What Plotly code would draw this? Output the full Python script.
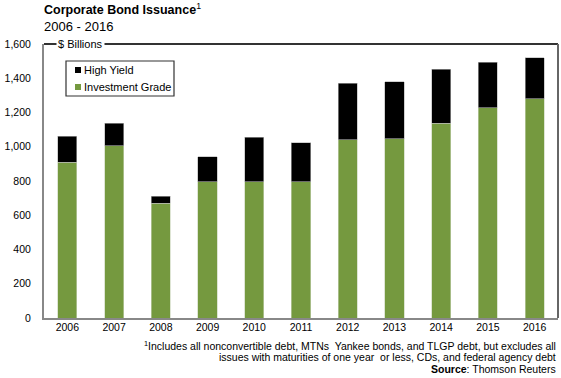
import plotly.graph_objects as go

years = ["2006", "2007", "2008", "2009", "2010", "2011", "2012", "2013", "2014", "2015", "2016"]
investment_grade = [910, 1005, 670, 795, 795, 795, 1040, 1046, 1137, 1228, 1280]
high_yield = [150, 132, 40, 147, 260, 228, 330, 334, 317, 265, 240]
series_names = ["High Yield", "Investment Grade"]

GREEN = "#75993F"
FONT = "Liberation Sans, Arial, sans-serif"
colors = {"High Yield": "#000000", "Investment Grade": GREEN}

fig = go.Figure()
fig.add_trace(go.Bar(x=years, y=investment_grade, name="Investment Grade",
                     marker=dict(color=GREEN, line=dict(color="#C8D4B8", width=0.6))))
fig.add_trace(go.Bar(x=years, y=high_yield, name="High Yield",
                     marker=dict(color="#000000", line=dict(color="#B0B0B0", width=0.6))))

PW, PH = 514, 274  # plot area in px

fig.update_layout(
    barmode="stack",
    bargap=0.59,
    width=561, height=378,
    margin=dict(l=44, r=3, t=44, b=60),
    paper_bgcolor="white", plot_bgcolor="white",
    font=dict(family=FONT, size=10.5, color="#000000"),
    showlegend=False,
)
fig.update_xaxes(showline=True, linecolor="#888888", linewidth=2, ticks="",
                 tickfont=dict(size=10.5), ticklabelstandoff=-2)
fig.update_yaxes(range=[0, 1600], dtick=200, tickformat=",d", showgrid=False,
                 showline=True, linecolor="#888888", linewidth=2, ticks="",
                 tickfont=dict(size=10.5), ticklabelstandoff=9, zeroline=False)

# frame top and right
fig.add_shape(type="line", xref="paper", yref="paper", x0=0, x1=1, y0=1, y1=1,
              line=dict(color="#333333", width=2))
fig.add_shape(type="line", xref="paper", yref="paper", x0=1, x1=1, y0=0, y1=1,
              line=dict(color="#666666", width=2))

def px_x(p):
    return p / PW

def px_y(p):
    return 1 - p / PH

# custom legend box
fig.add_shape(type="rect", xref="paper", yref="paper",
              x0=px_x(22), x1=px_x(130), y0=px_y(17), y1=px_y(52),
              line=dict(color="#333333", width=1.2), fillcolor="white")
for i, name in enumerate(series_names):
    cy = 26 + i * 17
    fig.add_shape(type="rect", xref="paper", yref="paper",
                  x0=px_x(31), x1=px_x(37), y0=px_y(cy - 3), y1=px_y(cy + 3),
                  line=dict(width=0), fillcolor=colors[name])
    fig.add_annotation(text=name, xref="paper", yref="paper", x=px_x(37.5), y=px_y(cy),
                       xanchor="left", yanchor="middle", showarrow=False,
                       font=dict(size=11))

fig.add_annotation(text="$ Billions", xref="paper", yref="paper", x=px_x(12), y=1.0,
                   xanchor="left", yanchor="middle", showarrow=False,
                   bgcolor="white", font=dict(size=11), borderpad=1)
fig.add_annotation(text="<b>Corporate Bond Issuance</b><sup>1</sup>", xref="paper", yref="paper",
                   x=0, y=1.0, xshift=-2, yshift=25, xanchor="left", yanchor="bottom",
                   showarrow=False, font=dict(size=12.5))
fig.add_annotation(text="2006 - 2016", xref="paper", yref="paper",
                   x=0, y=1.0, xshift=-2, yshift=8, xanchor="left", yanchor="bottom",
                   showarrow=False, font=dict(size=13))

foot_lines = [
    "<sup>1</sup>Includes all nonconvertible debt, MTNs  Yankee bonds, and TLGP debt, but excludes all",
    "issues with maturities of one year  or less, CDs, and federal agency debt",
    "<b>Source</b>: Thomson Reuters",
]
for i, line in enumerate(foot_lines):
    fig.add_annotation(text=line, xref="paper", yref="paper", x=1.0, xshift=0,
                       y=0, yshift=-(27 + 12 * i), xanchor="right", yanchor="middle",
                       align="right", showarrow=False, font=dict(size=10.5))

fig.write_html("out.html", config={"displayModeBar": False},
               post_script="document.body.style.margin='0px';")
